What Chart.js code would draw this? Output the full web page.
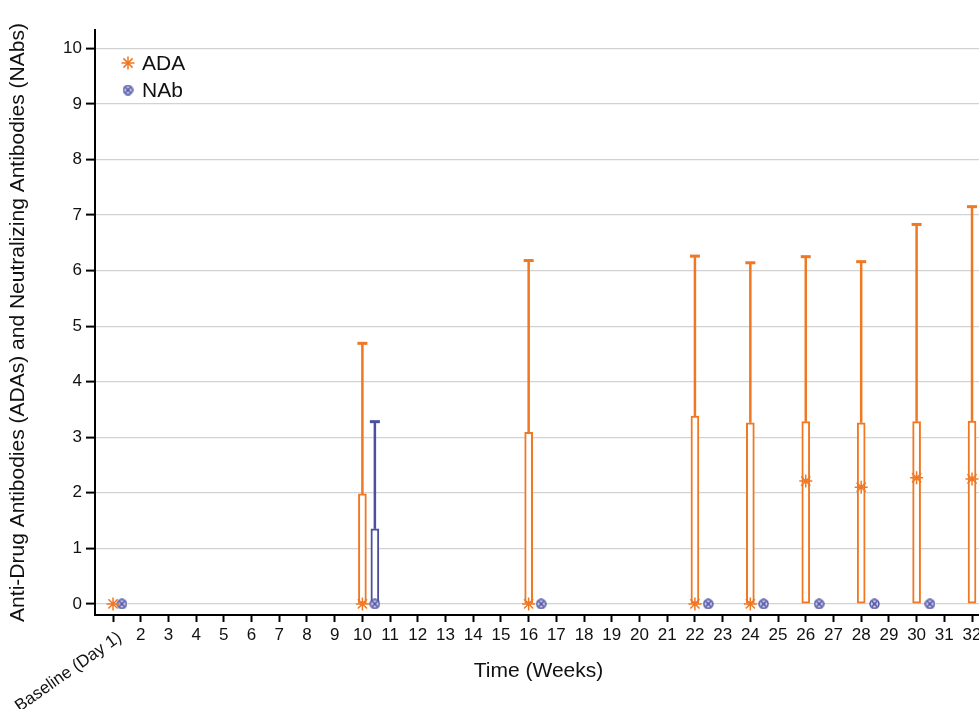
<!DOCTYPE html>
<html>
<head>
<meta charset="utf-8">
<script src="https://cdn.jsdelivr.net/npm/chart.js@4/dist/chart.umd.min.js"></script>
<style>
  html, body { margin: 0; padding: 0; background: #fff; overflow: hidden; }
  body { width: 979px; height: 709px; }
  #wrap { width: 990px; height: 709px; }
</style>
</head>
<body>
<div id="wrap"><canvas id="chart"></canvas></div>
<script>
// ADA at the scheduled weeks, NAb plotted just to the right of each
const adaWeeks = [1, 10, 16, 22, 24, 26, 28, 30, 32];
const adaLow = [0, 0, 0, 0, 0, 0, 0, 0, 0];
const adaUpper = [0, 1.98, 3.09, 3.38, 3.26, 3.28, 3.26, 3.28, 3.29];
const adaMax = [0, 4.69, 6.18, 6.26, 6.14, 6.25, 6.16, 6.83, 7.15];
const adaMid = [0, 0, 0, 0, 0, 2.21, 2.10, 2.27, 2.25];

const nabWeeks = [1.32, 10.45, 16.45, 22.48, 24.48, 26.48, 28.48, 30.48];
const nabLow = [0, 0, 0, 0, 0, 0, 0, 0];
const nabUpper = [0, 1.35, 0, 0, 0, 0, 0, 0];
const nabMax = [0, 3.28, 0, 0, 0, 0, 0, 0];
const nabMid = [0, 0, 0, 0, 0, 0, 0, 0];

const xTicks = [1, 2, 3, 4, 5, 6, 7, 8, 9, 10, 11, 12, 13, 14, 15, 16,
    17, 18, 19, 20, 21, 22, 23, 24, 25, 26, 27, 28, 29, 30, 31, 32];
const yTicks = [0, 1, 2, 3, 4, 5, 6, 7, 8, 9, 10];
const baselineLabel = 'Baseline (Day 1)';

const orange = '#f07823';
const navy = '#4b4f9f';
const font = '"Liberation Sans", Arial, sans-serif';

// circle with an x in it for NAb
function nabMarker(size) {
    let c = document.createElement('canvas');
    c.width = size; c.height = size;
    let g = c.getContext('2d');
    let r = size / 2 - 1;
    g.beginPath();
    g.arc(size / 2, size / 2, r, 0, Math.PI * 2);
    g.fillStyle = '#c9c9ea';
    g.fill();
    g.lineWidth = 1.4;
    g.strokeStyle = navy;
    g.stroke();
    let d = r * 0.6;
    g.beginPath();
    g.moveTo(size / 2 - d, size / 2 - d); g.lineTo(size / 2 + d, size / 2 + d);
    g.moveTo(size / 2 + d, size / 2 - d); g.lineTo(size / 2 - d, size / 2 + d);
    g.stroke();
    return c;
}
const nabImg = nabMarker(11);

function boxes(xs, lo, hi) {
    let out = [];
    xs.forEach((x, i) => { if (hi[i] > lo[i]) out.push({ x: x, y: [lo[i], hi[i]] }); });
    return out;
}
function whiskers(xs, hi, mx) {
    let out = [];
    xs.forEach((x, i) => {
        if (mx[i] > hi[i]) {
            out.push({ x: x, y: hi[i] }, { x: x, y: mx[i] }, { x: x, y: null });
        }
    });
    return out;
}
function caps(xs, hi, mx) {
    let out = [];
    xs.forEach((x, i) => { if (mx[i] > hi[i]) out.push({ x: x, y: mx[i] }); });
    return out;
}
function points(xs, ys) {
    return xs.map((x, i) => ({ x: x, y: ys[i] }));
}

const extras = {
    id: 'extras',
    afterDraw(chart) {
        let c = chart.ctx;
        let xs = chart.scales.x;
        c.save();
        // rotated baseline label under tick 1
        c.font = '17px ' + font;
        c.fillStyle = '#111';
        c.translate(xs.getPixelForValue(1) + 2, xs.top + 14);
        c.rotate(-35 * Math.PI / 180);
        c.textAlign = 'right';
        c.textBaseline = 'top';
        c.fillText(baselineLabel, 0, 0);
        c.restore();

        // legend in the top left of the plot
        c.save();
        c.font = '21px ' + font;
        c.fillStyle = '#111';
        c.textBaseline = 'middle';
        let lx = 128;
        c.strokeStyle = orange;
        c.lineWidth = 1.5;
        let r = 6.5, ly = 63;
        c.beginPath();
        for (let k = 0; k < 4; k++) {
            let a = k * Math.PI / 4;
            c.moveTo(lx - r * Math.cos(a), ly - r * Math.sin(a));
            c.lineTo(lx + r * Math.cos(a), ly + r * Math.sin(a));
        }
        c.stroke();
        c.fillText('ADA', 142, ly + 1);
        c.drawImage(nabImg, lx - 5.5, 90 - 5.5);
        c.fillText('NAb', 142, 91);
        c.restore();
    }
};

new Chart(document.getElementById('chart'), {
    type: 'bar',
    data: {
        datasets: [
            {
                type: 'scatter', label: 'ADA', order: 0,
                data: points(adaWeeks, adaMid),
                pointStyle: 'star', pointRadius: 6.5, borderColor: orange, borderWidth: 1.5,
                backgroundColor: orange
            },
            {
                type: 'scatter', label: 'NAb', order: 0,
                data: points(nabWeeks, nabMid),
                pointStyle: nabImg
            },
            {
                type: 'scatter', order: 1,
                data: caps(adaWeeks, adaUpper, adaMax),
                pointStyle: 'line', pointRadius: 5, borderColor: orange, borderWidth: 3
            },
            {
                type: 'scatter', order: 1,
                data: caps(nabWeeks, nabUpper, nabMax),
                pointStyle: 'line', pointRadius: 5, borderColor: navy, borderWidth: 3
            },
            {
                type: 'line', order: 2,
                data: whiskers(adaWeeks, adaUpper, adaMax),
                borderColor: orange, borderWidth: 2.5, pointRadius: 0, spanGaps: false
            },
            {
                type: 'line', order: 2,
                data: whiskers(nabWeeks, nabUpper, nabMax),
                borderColor: navy, borderWidth: 2.5, pointRadius: 0, spanGaps: false
            },
            {
                type: 'bar', order: 3, grouped: false,
                data: boxes(adaWeeks, adaLow, adaUpper),
                backgroundColor: '#ffffff', borderColor: orange, borderWidth: 2,
                borderSkipped: false, barThickness: 8
            },
            {
                type: 'bar', order: 3, grouped: false,
                data: boxes(nabWeeks, nabLow, nabUpper),
                backgroundColor: '#ffffff', borderColor: navy, borderWidth: 2,
                borderSkipped: false, barThickness: 8
            }
        ]
    },
    options: {
        responsive: true,
        maintainAspectRatio: false,
        animation: false,
        layout: { padding: { top: 30, right: 0, left: 0, bottom: 0 } },
        plugins: {
            legend: { display: false },
            tooltip: { enabled: false }
        },
        scales: {
            x: {
                type: 'linear',
                min: 0.35,
                max: 32.36,
                offset: false,
                afterBuildTicks: (s) => { s.ticks = xTicks.map(v => ({ value: v })); },
                afterFit: (s) => { s.height = 94; },
                grid: { offset: false, drawOnChartArea: false, tickLength: 7, tickColor: '#000', tickWidth: 2 },
                border: { color: '#000', width: 2 },
                ticks: {
                    autoSkip: false, maxRotation: 0, minRotation: 0, padding: 3,
                    color: '#111', font: { family: font, size: 17 },
                    callback: (v) => v === 1 ? '' : String(v)
                },
                title: {
                    display: true, text: 'Time (Weeks)', color: '#111',
                    font: { family: font, size: 21 }, padding: { top: 0, bottom: 25 }
                }
            },
            y: {
                min: -0.2,
                max: 10.33,
                afterBuildTicks: (s) => { s.ticks = yTicks.map(v => ({ value: v })); },
                afterFit: (s) => { s.width = 95; },
                grid: { color: '#d2d2d2', lineWidth: 1.2, tickLength: 9, tickColor: '#000', tickWidth: 2 },
                border: { color: '#000', width: 2 },
                ticks: { color: '#111', padding: 4, font: { family: font, size: 17 } },
                title: {
                    display: true,
                    text: 'Anti-Drug Antibodies (ADAs) and Neutralizing Antibodies (NAbs)',
                    color: '#111', font: { family: font, size: 21 }, padding: { top: 6, bottom: 0 }
                }
            }
        }
    },
    plugins: [extras]
});
</script>
</body>
</html>
